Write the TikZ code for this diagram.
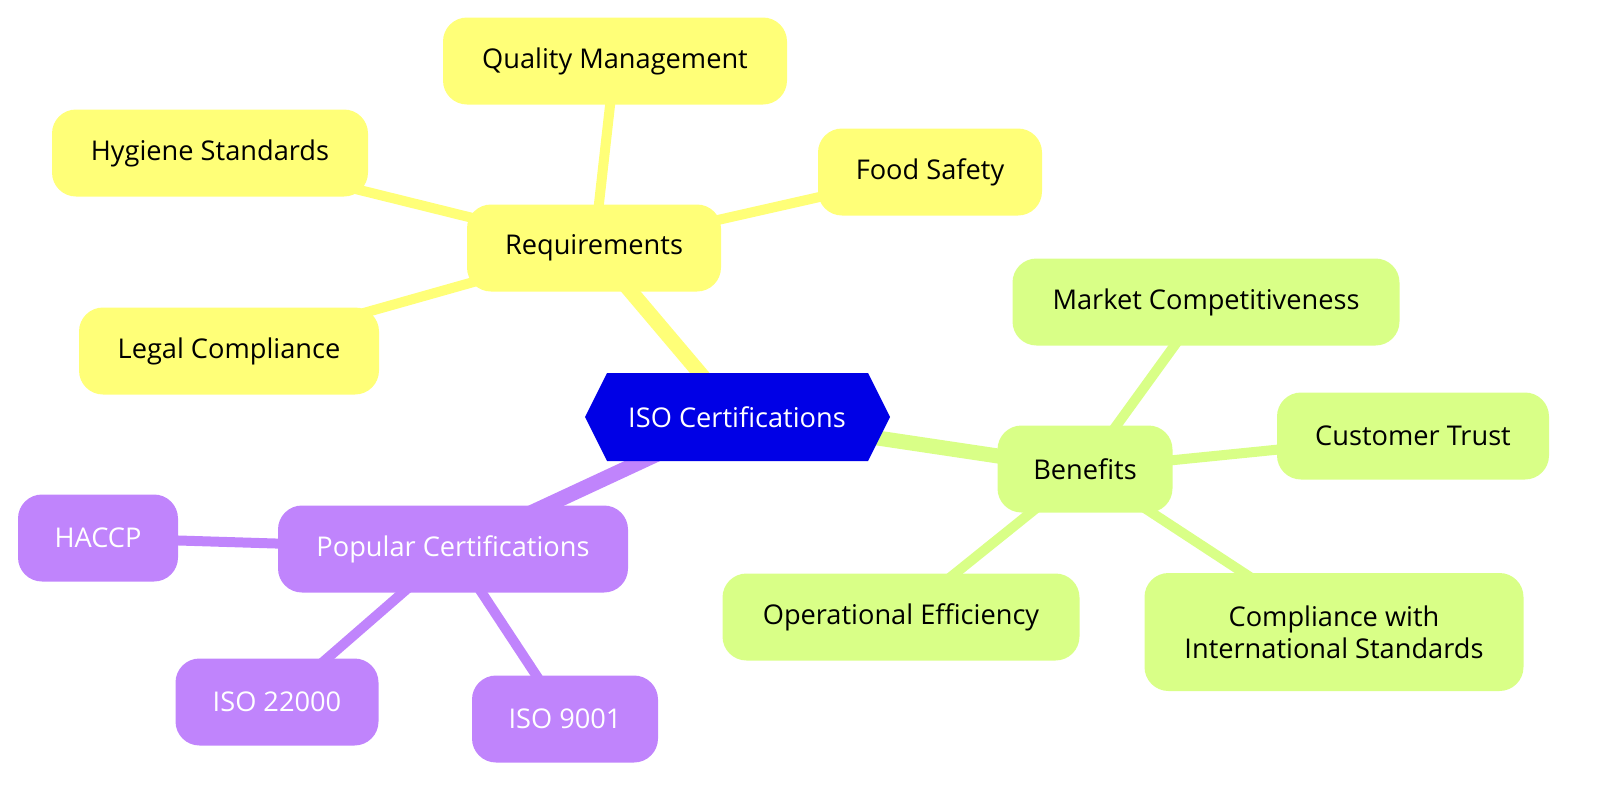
\documentclass[tikz,border=0pt]{standalone}
\usepackage{fontspec}
\setmainfont{Open Sans}
\definecolor{yel}{HTML}{FFFF78}
\definecolor{grn}{HTML}{D9FF87}
\definecolor{pur}{HTML}{C084FC}
\definecolor{hexb}{HTML}{0000E6}
\begin{document}
\begin{tikzpicture}[x=0.5pt,y=-0.5pt,
  box/.style={rounded corners=12pt,minimum height=43.5pt,inner sep=0pt,align=center,font=\fontsize{13.6}{16}\selectfont},
  yb/.style={box,fill=yel},
  gb/.style={box,fill=grn},
  pb/.style={box,fill=pur,text=white},
  ye/.style={line width=5pt,draw=yel},
  ge/.style={line width=5pt,draw=grn},
  pe/.style={line width=5pt,draw=pur}]
\useasboundingbox (0,0) rectangle (1600,798);
\coordinate (c) at (737,417);
\coordinate (rq) at (594,248);
\coordinate (bn) at (1085,469);
\coordinate (pc) at (453,549);
\coordinate (qm) at (615,61);
\coordinate (hs) at (210,153);
\coordinate (fs) at (930,172);
\coordinate (lc) at (229,351);
\coordinate (mc) at (1206,302);
\coordinate (ct) at (1413,436);
\coordinate (oe) at (901,617);
\coordinate (ci) at (1334,632);
\coordinate (ha) at (98,538);
\coordinate (i22) at (277,702);
\coordinate (i9) at (565,719);
\draw[ye,line width=7.5pt] (c) -- (rq);
\draw[ge,line width=7.5pt] (c) -- (bn);
\draw[pe,line width=7.5pt] (c) -- (pc);
\draw[ye] (rq) -- (qm); \draw[ye] (rq) -- (hs); \draw[ye] (rq) -- (fs); \draw[ye] (rq) -- (lc);
\draw[ge] (bn) -- (mc); \draw[ge] (bn) -- (ct); \draw[ge] (bn) -- (oe); \draw[ge] (bn) -- (ci);
\draw[pe] (pc) -- (ha); \draw[pe] (pc) -- (i22); \draw[pe] (pc) -- (i9);
\fill[hexb] (585,417) -- (607,373) -- (868,373) -- (890,417) -- (868,461) -- (607,461) -- cycle;
\node[text=white,font=\fontsize{13.6}{16}\selectfont] (iso) at (c) {ISO Certifications};
\node[yb,minimum width=127pt] (Rq) at (rq) {Requirements};
\node[yb,minimum width=172pt] (Qm) at (qm) {Quality Management};
\node[yb,minimum width=158pt] (Hs) at (hs) {Hygiene Standards};
\node[yb,minimum width=112pt] (Fs) at (fs) {Food Safety};
\node[yb,minimum width=150pt] (Lc) at (lc) {Legal Compliance};
\node[gb,minimum width=87.5pt] (Bn) at (bn) {Benefits};
\node[gb,minimum width=193.5pt] (Mc) at (mc) {Market Competitiveness};
\node[gb,minimum width=136pt] (Ct) at (ct) {Customer Trust};
\node[gb,minimum width=178.5pt] (Oe) at (oe) {Operational Efficiency};
\node[gb,minimum width=189.5pt,minimum height=59pt] (Ci) at (ci) {Compliance with\\International Standards};
\node[pb,minimum width=175pt] (Pc) at (pc) {Popular Certifications};
\node[pb,minimum width=80pt] (Ha) at (ha) {HACCP};
\node[pb,minimum width=101.5pt] (I22) at (i22) {ISO 22000};
\node[pb,minimum width=93pt] (I9) at (i9) {ISO 9001};
\end{tikzpicture}
\end{document}
